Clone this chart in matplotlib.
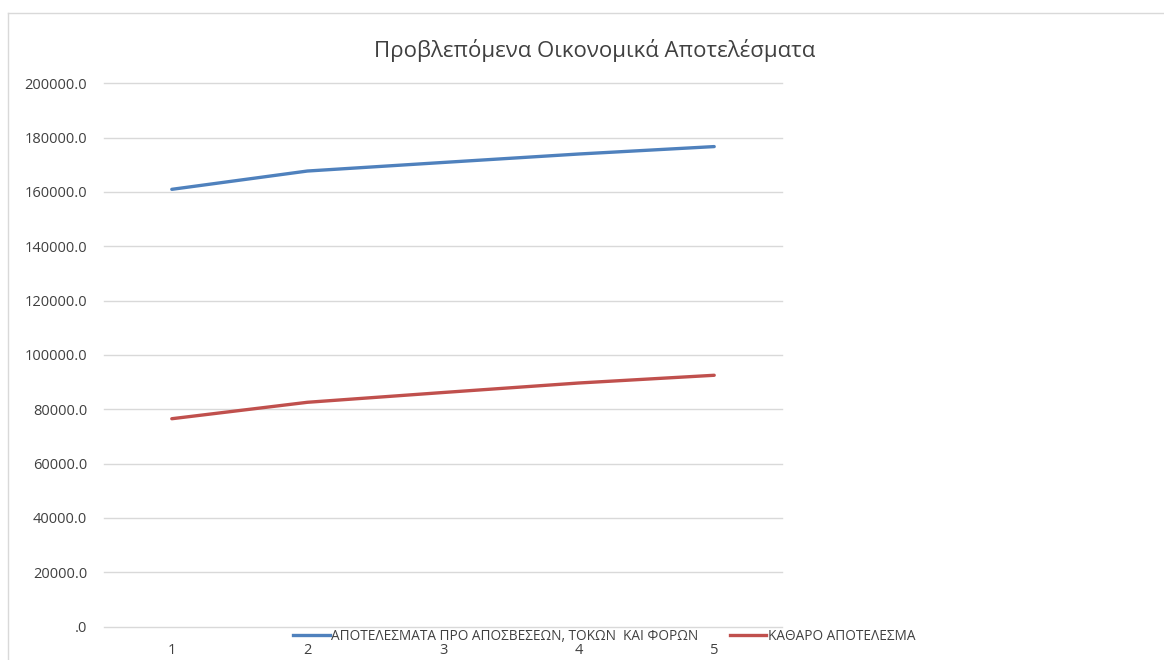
import matplotlib.pyplot as plt
from matplotlib.lines import Line2D

# data
periods = [1, 2, 3, 4, 5]
ebitda = [160960, 167700, 170850, 173960, 176700]
net_result = [76500, 82550, 86150, 89650, 92500]

series_names = ["ΑΠΟΤΕΛΕΣΜΑΤΑ ΠΡΟ ΑΠΟΣΒΕΣΕΩΝ, ΤΟΚΩΝ  ΚΑΙ ΦΟΡΩΝ", "ΚΑΘΑΡΟ ΑΠΟΤΕΛΕΣΜΑ"]
title = "Προβλεπόμενα Οικονομικά Αποτελέσματα"
y_ticks = [0, 20000, 40000, 60000, 80000, 100000, 120000, 140000, 160000, 180000, 200000]
y_labels = [".0"] + [f"{v:.1f}" for v in y_ticks[1:]]

plt.rcParams['font.family'] = ['Open Sans', 'DejaVu Sans']

W, H = 1164, 660
fig = plt.figure(figsize=(W / 100, H / 100), dpi=100)

# chart area frame (cut off on the right and bottom)
fig.add_artist(Line2D([8 / W, 8 / W], [0, 1 - 13 / H], color="#D9D9D9", lw=1))
fig.add_artist(Line2D([8 / W, 1], [1 - 13 / H, 1 - 13 / H], color="#D9D9D9", lw=1))

ax = fig.add_axes([104 / W, 33.5 / H, 678 / W, 543.2 / H])
ax.plot(periods, ebitda, color="#4F81BD", lw=2.4, solid_capstyle="round")
ax.plot(periods, net_result, color="#C0504D", lw=2.4, solid_capstyle="round")

ax.set_xlim(0.5, 5.5)
ax.set_ylim(0, 200000)
ax.set_yticks(y_ticks)
ax.set_yticklabels(y_labels)
ax.set_xticks(periods)
ax.set_xticklabels([str(p) for p in periods])
ax.grid(axis="y", color="#D9D9D9", lw=1)
for gl in ax.get_ygridlines():
    gl.set_clip_on(False)
ax.set_axisbelow(True)
for s in ax.spines.values():
    s.set_visible(False)
ax.tick_params(length=0, colors="#404040", labelsize=10.5)
ax.tick_params(axis="y", pad=12)
ax.tick_params(axis="x", pad=12)

fig.text(595 / W, 1 - 50 / H, title, ha="center", va="center",
         fontsize=16, color="#404040")

handles = [Line2D([], [], color="#4F81BD", lw=2.4), Line2D([], [], color="#C0504D", lw=2.4)]
fig.legend(handles, series_names, loc="center", bbox_to_anchor=(604 / W, 1 - 636 / H),
           ncol=2, frameon=False, fontsize=9.8, handlelength=2.7, handletextpad=0.1,
           columnspacing=2.3, labelcolor="#404040", borderpad=0)

fig.savefig("out.png", dpi=100)
